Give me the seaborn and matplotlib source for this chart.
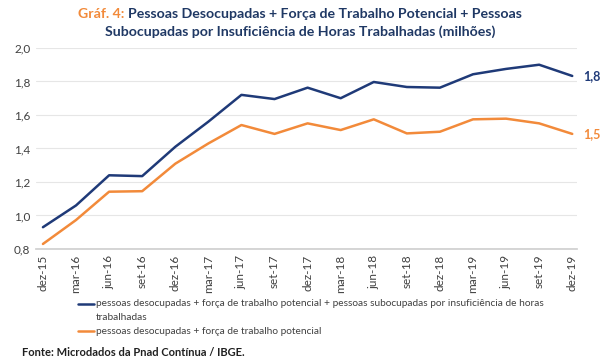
import numpy as np
import pandas as pd
import seaborn as sns
import matplotlib.pyplot as plt
from matplotlib.lines import Line2D

periodos = ['dez-15', 'mar-16', 'jun-16', 'set-16', 'dez-16', 'mar-17', 'jun-17', 'set-17',
            'dez-17', 'mar-18', 'jun-18', 'set-18', 'dez-18', 'mar-19', 'jun-19', 'set-19', 'dez-19']
total = [0.93, 1.06, 1.24, 1.235, 1.41, 1.56, 1.72, 1.695, 1.763, 1.70, 1.797, 1.767,
         1.763, 1.843, 1.875, 1.90, 1.833]
desoc_ftp = [0.83, 0.973, 1.142, 1.145, 1.309, 1.43, 1.54, 1.487, 1.55, 1.51, 1.574, 1.49,
             1.50, 1.574, 1.578, 1.55, 1.487]
rotulo_total = ['pessoas desocupadas + força de trabalho potencial + pessoas subocupadas por insuficiência de horas',
                'trabalhadas']
rotulo_desoc = 'pessoas desocupadas + força de trabalho potencial'

AZUL = '#1f3a78'
LARANJA = '#f28a3a'
TITULO = '#1f3864'

sns.set_theme(style='white')
plt.rcParams['font.family'] = ['Lato', 'DejaVu Sans']

df = pd.DataFrame({'periodo': periodos, 'total': total, 'desoc': desoc_ftp})
df['x'] = np.arange(len(df))

fig = plt.figure(figsize=(6, 3.58), dpi=100)
ax = fig.add_axes([0.06, 0.3045, 0.902, 0.5615])

sns.lineplot(data=df, x='x', y='total', color=AZUL, lw=1.8, ax=ax)
sns.lineplot(data=df, x='x', y='desoc', color=LARANJA, lw=1.8, ax=ax)

ax.set_xlim(-0.21, 16.15)
ax.set_ylim(0.8, 2.0)
ax.set_yticks(np.arange(0.8, 2.01, 0.2))
ax.set_yticklabels([f'{v:.1f}'.replace('.', ',') for v in np.arange(0.8, 2.01, 0.2)],
                   fontsize=8.5, color='#404040')
ax.set_xticks(df['x'])
ax.set_xticklabels(periodos, rotation=90, fontsize=8.5, color='#404040')
ax.tick_params(axis='both', length=0, pad=4)
ax.set_xlabel('')
ax.set_ylabel('')
ax.grid(axis='y', color='#e6e6e6', lw=0.8)
for s in ['top', 'right', 'left']:
    ax.spines[s].set_visible(False)
ax.spines['bottom'].set_color('#d0d0d0')

# rotulos no fim das linhas
ax.annotate(f'{total[-1]:.1f}'.replace('.', ','), (df['x'].iloc[-1], total[-1]),
            xytext=(8, 0), textcoords='offset points', va='center',
            color=AZUL, fontsize=9, fontweight='bold', annotation_clip=False)
ax.annotate(f'{desoc_ftp[-1]:.1f}'.replace('.', ','), (df['x'].iloc[-1], desoc_ftp[-1]),
            xytext=(8, 0), textcoords='offset points', va='center',
            color=LARANJA, fontsize=9, fontweight='bold', annotation_clip=False)

# titulo em duas cores
fig.canvas.draw()
r = fig.canvas.get_renderer()
p1 = 'Gráf. 4: '
p2 = 'Pessoas Desocupadas + Força de Trabalho Potencial + Pessoas'
t1 = fig.text(0, 0, p1, fontsize=10.2, fontweight='bold')
t2 = fig.text(0, 0, p2, fontsize=10.2, fontweight='bold')
w1 = t1.get_window_extent(r).width / fig.bbox.width
w2 = t2.get_window_extent(r).width / fig.bbox.width
x0 = 0.5 - (w1 + w2) / 2
t1.set_position((x0, 1 - 14 / 358))
t1.set_va('center')
t1.set_color(LARANJA)
t2.set_position((x0 + w1, 1 - 14 / 358))
t2.set_va('center')
t2.set_color(TITULO)
fig.text(0.5, 1 - 32 / 358, 'Subocupadas por Insuficiência de Horas Trabalhadas (milhões)',
         ha='center', va='center', fontsize=10.2, fontweight='bold', color=TITULO)

# legenda feita a mao (marcador alinhado com a primeira linha do texto)
def fy(py):
    return 1 - py / 358

for cor, py in [(AZUL, 304), (LARANJA, 331)]:
    fig.add_artist(Line2D([78 / 600, 94 / 600], [fy(py), fy(py)], color=cor, lw=1.8,
                          transform=fig.transFigure))
for txt, py in [(rotulo_total[0], 304), (rotulo_total[1], 317.5), (rotulo_desoc, 331)]:
    fig.text(95.5 / 600, fy(py), txt, ha='left', va='center', fontsize=7.3, color='#404040')

fig.text(22 / 600, fy(352), 'Fonte: Microdados da Pnad Contínua / IBGE.',
         ha='left', va='center', fontsize=8, fontweight='bold', color='#202020')

fig.savefig('out.png', dpi=100)
